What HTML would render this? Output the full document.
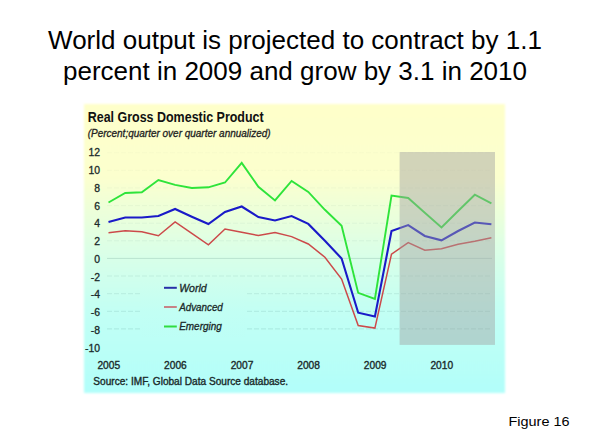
<!DOCTYPE html>
<html><head><meta charset="utf-8"><style>
html,body{margin:0;padding:0;background:#fff;}
svg{display:block;}
text{font-family:"Liberation Sans",sans-serif;}
</style></head><body>
<svg width="590" height="443" viewBox="0 0 590 443">
<defs>
<linearGradient id="bg" gradientUnits="userSpaceOnUse" x1="0" y1="104" x2="0" y2="393">
<stop offset="0" stop-color="#feffca"/>
<stop offset="0.25" stop-color="#fcffce"/>
<stop offset="0.5" stop-color="#dcffe6"/>
<stop offset="0.72" stop-color="#c2fff4"/>
<stop offset="1" stop-color="#b2fefa"/>
</linearGradient>
<linearGradient id="gg" gradientUnits="userSpaceOnUse" x1="0" y1="150" x2="0" y2="345"><stop offset="0" stop-color="#003c3c" stop-opacity="0.02"/><stop offset="0.4" stop-color="#003c3c" stop-opacity="0.05"/><stop offset="1" stop-color="#003c3c" stop-opacity="0.13"/></linearGradient>
<filter id="soft" x="-5%" y="-5%" width="110%" height="110%"><feGaussianBlur stdDeviation="0.9"/></filter>
</defs>
<rect width="590" height="443" fill="#fff"/>
<g font-size="26" fill="#000" text-anchor="middle">
<text x="295" y="48.5">World output is projected to contract by 1.1</text>
<text x="295" y="80.2">percent in 2009 and grow by 3.1 in 2010</text>
</g>
<rect x="84" y="104" width="421" height="289" fill="url(#bg)" filter="url(#soft)"/>
<text x="87.7" y="121.5" font-size="14.2" font-weight="bold" fill="#111" textLength="176" lengthAdjust="spacingAndGlyphs">Real Gross Domestic Product</text>
<text x="87.7" y="137.2" font-size="10.5" font-style="italic" fill="#222" stroke="#222" stroke-width="0.3" textLength="183" lengthAdjust="spacingAndGlyphs">(Percent;quarter over quarter annualized)</text>
<line x1="107" y1="152.7" x2="492" y2="152.7" stroke="url(#gg)" stroke-width="1" stroke-dasharray="5,2"/><line x1="107" y1="170.3" x2="492" y2="170.3" stroke="url(#gg)" stroke-width="1" stroke-dasharray="5,2"/><line x1="107" y1="187.9" x2="492" y2="187.9" stroke="url(#gg)" stroke-width="1" stroke-dasharray="5,2"/><line x1="107" y1="205.6" x2="492" y2="205.6" stroke="url(#gg)" stroke-width="1" stroke-dasharray="5,2"/><line x1="107" y1="223.2" x2="492" y2="223.2" stroke="url(#gg)" stroke-width="1" stroke-dasharray="5,2"/><line x1="107" y1="240.8" x2="492" y2="240.8" stroke="url(#gg)" stroke-width="1" stroke-dasharray="5,2"/><line x1="107" y1="258.4" x2="492" y2="258.4" stroke="#003c3c" stroke-opacity="0.14" stroke-width="1"/><line x1="107" y1="276.0" x2="492" y2="276.0" stroke="url(#gg)" stroke-width="1" stroke-dasharray="5,2"/><line x1="107" y1="293.7" x2="492" y2="293.7" stroke="url(#gg)" stroke-width="1" stroke-dasharray="5,2"/><line x1="107" y1="311.3" x2="492" y2="311.3" stroke="url(#gg)" stroke-width="1" stroke-dasharray="5,2"/><line x1="107" y1="328.9" x2="492" y2="328.9" stroke="url(#gg)" stroke-width="1" stroke-dasharray="5,2"/>
<g fill="none" stroke-width="2.4" stroke-linejoin="miter">
<polyline points="108.5,232.7 125.2,230.8 141.8,231.7 158.4,235.8 175.1,222.0 191.8,233.3 208.4,244.8 225.0,229.0 241.7,232.3 258.4,235.5 275.0,232.5 291.6,236.6 308.3,244.0 324.9,257.2 341.6,279.0 358.2,325.6 374.9,328.1 391.5,254.2 408.2,242.6 424.8,250.2 441.5,248.7 458.1,244.2 474.8,241.2 491.4,237.8" stroke="#cc4a4a" stroke-width="1.5"/>
<polyline points="108.5,222.0 125.2,217.5 141.8,217.5 158.4,216.0 175.1,209.0 191.8,216.7 208.4,224.0 225.0,212.0 241.7,206.5 258.4,217.1 275.0,220.5 291.6,216.0 308.3,223.9 324.9,240.8 341.6,258.5 358.2,312.7 374.9,316.6 391.5,231.1 408.2,225.1 424.8,236.0 441.5,240.3 458.1,231.0 474.8,222.5 491.4,224.3" stroke="#1a1ac8" stroke-width="2.1"/>
<polyline points="108.5,202.5 125.2,193.0 141.8,192.2 158.4,180.0 175.1,184.9 191.8,188.0 208.4,187.3 225.0,182.5 241.7,162.9 258.4,186.8 275.0,200.4 291.6,181.0 308.3,191.9 324.9,209.8 341.6,225.7 358.2,292.9 374.9,298.9 391.5,195.5 408.2,198.0 424.8,212.7 441.5,227.4 458.1,211.0 474.8,194.7 491.4,203.3" stroke="#2ee43a" stroke-width="1.9"/>
</g>
<rect x="399.6" y="152" width="95.4" height="192.9" fill="#a2a2a2" fill-opacity="0.46"/>
<g font-size="10.4" fill="#1a2a2a" stroke="#1a2a2a" stroke-width="0.3">
<text x="100" y="156.4" text-anchor="end">12</text><text x="100" y="174.1" text-anchor="end">10</text><text x="100" y="191.9" text-anchor="end">8</text><text x="100" y="209.6" text-anchor="end">6</text><text x="100" y="227.4" text-anchor="end">4</text><text x="100" y="245.1" text-anchor="end">2</text><text x="100" y="262.8" text-anchor="end">0</text><text x="100" y="280.6" text-anchor="end">-2</text><text x="100" y="298.3" text-anchor="end">-4</text><text x="100" y="316.1" text-anchor="end">-6</text><text x="100" y="333.8" text-anchor="end">-8</text><text x="100" y="351.5" text-anchor="end">-10</text>
</g>
<g font-size="10.2" fill="#1a2a2a" stroke="#1a2a2a" stroke-width="0.35">
<text x="108.8" y="368.7" text-anchor="middle">2005</text><text x="175.4" y="368.7" text-anchor="middle">2006</text><text x="242.0" y="368.7" text-anchor="middle">2007</text><text x="308.6" y="368.7" text-anchor="middle">2008</text><text x="375.2" y="368.7" text-anchor="middle">2009</text><text x="441.8" y="368.7" text-anchor="middle">2010</text>
</g>
<rect x="141" y="279" width="104" height="59" fill="url(#bg)"/>
<line x1="164" y1="287.8" x2="176.8" y2="287.8" stroke="#2830a8" stroke-width="2"/>
<line x1="164" y1="307" x2="176.8" y2="307" stroke="#c85a62" stroke-width="1.5"/>
<line x1="164" y1="326.5" x2="176.8" y2="326.5" stroke="#30dc40" stroke-width="2"/>
<g font-size="10" font-style="italic" fill="#1a2a2a" stroke="#1a2a2a" stroke-width="0.3">
<text x="179.2" y="291.9" textLength="27.5" lengthAdjust="spacingAndGlyphs">World</text>
<text x="179.2" y="311" textLength="43.6" lengthAdjust="spacingAndGlyphs">Advanced</text>
<text x="179.2" y="330.4" textLength="42.6" lengthAdjust="spacingAndGlyphs">Emerging</text>
</g>
<text x="93.3" y="384.5" font-size="10" fill="#1a2a2a" stroke="#1a2a2a" stroke-width="0.35" textLength="194.8" lengthAdjust="spacingAndGlyphs">Source: IMF, Global Data Source database.</text>
<text x="508.5" y="426.2" font-size="13.4" fill="#000" textLength="61" lengthAdjust="spacingAndGlyphs">Figure 16</text>
</svg>
</body></html>
